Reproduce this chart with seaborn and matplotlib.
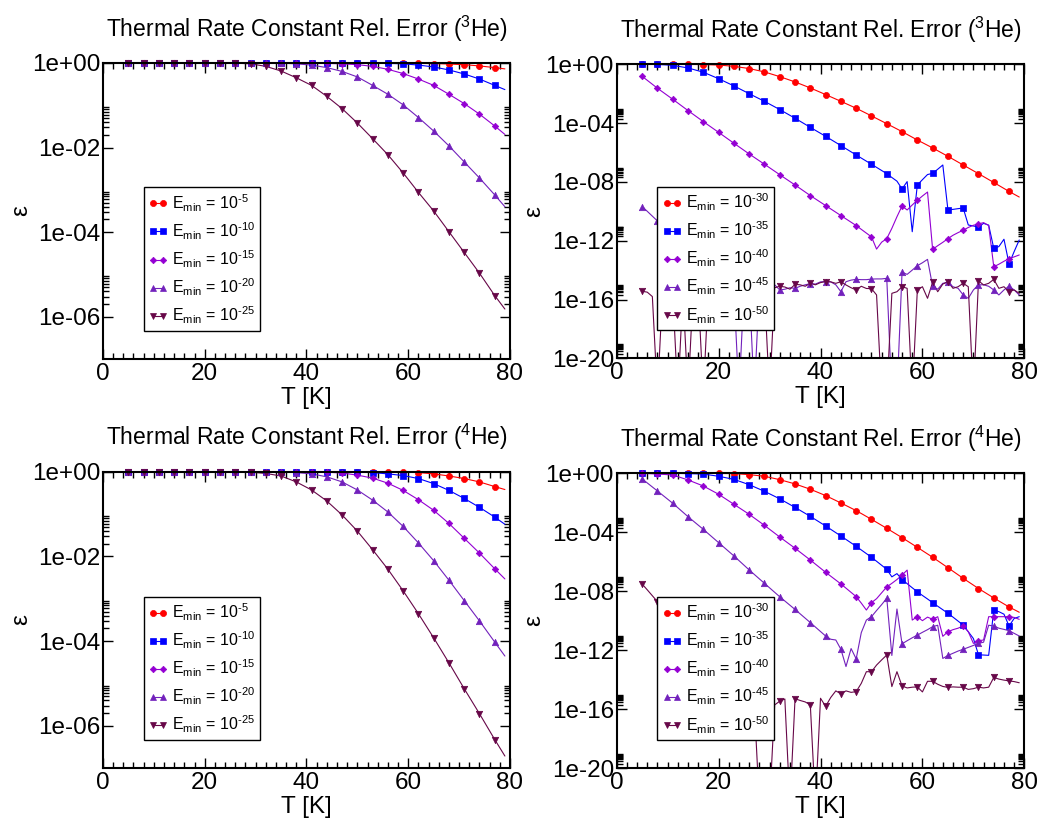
import numpy as np
import matplotlib
matplotlib.use("Agg")
import matplotlib.pyplot as plt
import seaborn as sns
from matplotlib.lines import Line2D
from matplotlib.ticker import FixedLocator, MultipleLocator, FuncFormatter, NullFormatter

sns.set_theme(style="ticks")
plt.rcParams["font.family"] = ["Liberation Sans", "DejaVu Sans"]
plt.rcParams["mathtext.fontset"] = "custom"
plt.rcParams["mathtext.rm"] = "Liberation Sans"
plt.rcParams["mathtext.it"] = "Liberation Sans:italic"
plt.rcParams["mathtext.bf"] = "Liberation Sans:bold"
for key in ("text.color", "axes.labelcolor", "xtick.color", "ytick.color", "axes.edgecolor"):
    plt.rcParams[key] = "black"

# ---------------------------------------------------------------- data
# temperature grids [K]
T_COARSE = [5, 8, 11, 14, 17, 20, 23, 26, 29, 32, 35, 38, 41, 44, 47, 50,
            53, 56, 59, 62, 65, 68, 71, 74, 77, 79]
T_FINE = list(range(5, 80))

# log10 of the relative error, 3He, E_min = 1e-5 ... 1e-25
HE3_E05 = [0, 0, 0, 0, 0, 0, 0, 0, 0, 0, 0, 0, 0, 0, 0, 0, 0,
           -0.003, -0.006, -0.01, -0.015, -0.025, -0.04, -0.07, -0.11, -0.14]
HE3_E10 = [0, 0, 0, 0, 0, 0, 0, 0, 0, 0, 0, 0, 0, 0, 0, -0.003, -0.006,
           -0.01, -0.02, -0.05, -0.094, -0.165, -0.26, -0.38, -0.53, -0.63]
HE3_E15 = [0, 0, 0, 0, 0, 0, 0, 0, 0, 0, 0, -0.001, -0.003, -0.01, -0.02, -0.04,
           -0.08, -0.15, -0.25, -0.38, -0.53, -0.74, -0.96, -1.21, -1.49, -1.69]
HE3_E20 = [0, 0, 0, 0, 0, 0, 0, 0, 0, 0, -0.005, -0.02, -0.05, -0.11, -0.20, -0.33,
           -0.53, -0.74, -0.99, -1.29, -1.61, -1.96, -2.34, -2.72, -3.12, -3.40]
HE3_E25 = [0, 0, 0, 0, 0, 0, 0, -0.005, -0.02, -0.08, -0.19, -0.35, -0.53, -0.79,
           -1.08, -1.42, -1.79, -2.17, -2.60, -3.06, -3.50, -3.99, -4.48, -4.97,
           -5.50, -5.82]

# log10 of the relative error, 4He, E_min = 1e-5 ... 1e-25
HE4_E05 = [0, 0, 0, 0, 0, 0, 0, 0, 0, 0, 0, 0, 0, 0, 0, 0, -0.002,
           -0.005, -0.01, -0.02, -0.05, -0.10, -0.16, -0.24, -0.35, -0.42]
HE4_E10 = [0, 0, 0, 0, 0, 0, 0, 0, 0, 0, 0, 0, 0, 0, -0.003, -0.008, -0.02,
           -0.05, -0.09, -0.16, -0.28, -0.44, -0.63, -0.84, -1.07, -1.24]
HE4_E15 = [0, 0, 0, 0, 0, 0, 0, 0, 0, 0, 0, 0, -0.004, -0.01, -0.03, -0.08,
           -0.15, -0.27, -0.44, -0.66, -0.91, -1.22, -1.57, -1.92, -2.29, -2.53]
HE4_E20 = [0, 0, 0, 0, 0, 0, 0, 0, 0, 0, -0.005, -0.02, -0.05, -0.12, -0.24, -0.43,
           -0.67, -0.95, -1.29, -1.68, -2.10, -2.56, -3.04, -3.52, -4.02, -4.35]
HE4_E25 = [0, 0, 0, 0, 0, 0, 0, 0, -0.01, -0.04, -0.10, -0.24, -0.43, -0.69,
           -1.02, -1.40, -1.84, -2.30, -2.81, -3.35, -3.92, -4.51, -5.12, -5.71,
           -6.32, -6.71]

# 3He, E_min = 1e-30 ... 1e-50
HE3_E30 = [0, 0, 0, -0.01, -0.02, -0.05, -0.14, -0.29, -0.52, -0.84, -1.2, -1.61,
           -2.06, -2.52, -2.99, -3.51, -4.04, -4.58, -5.15, -5.69, -6.26, -6.85,
           -7.44, -8.04, -8.65, -9.03]
T_HE3_E35 = T_COARSE[:17] + list(range(54, 80))
HE3_E35 = [0, -0.01, -0.07, -0.25, -0.54, -0.98, -1.47, -2.0, -2.52, -3.08, -3.67,
           -4.29, -4.9, -5.53, -6.17, -6.8, -7.44,
           -7.7, -7.95, -8.48, -7.98, -11.39, -8.21, -7.85, -7.5, -7.42, -7.14,
           -6.85, -9.89, -9.87, -9.82, -9.78, -10.93, -11.0, -11.07, -10.82,
           -10.94, -12.52, -12.4, -11.9, -13.58, -12.74, -11.95]
T_HE3_E40 = T_COARSE[:16] + list(range(51, 80))
HE3_E40 = [-0.82, -1.63, -2.38, -3.15, -3.9, -4.63, -5.37, -6.10, -6.80, -7.51,
           -8.21, -8.93, -9.61, -10.29, -10.97, -11.74,
           -12.57, -12.1, -11.86, -11.16, -10.37, -9.64, -9.91, -9.57, -9.25,
           -8.96, -8.69, -12.59, -12.34, -12.11, -11.86, -11.63, -11.45, -11.29,
           -11.1, -10.95, -10.86, -10.77, -10.97, -13.77, -13.6, -13.4, -13.22,
           -13.1, -12.97]
HE3_E45 = [-9.68, -10.0, -10.33, -10.66, -11.0, -11.35, -11.7, -12.05, -12.4,
           -12.75, -13.1, -13.45, -13.8, -14.15, -14.5, -14.85, -15.2, -15.0,
           -15.3, -22.5, -15.2, -15.0, -22.5, -15.2, -15.0, -15.05, -15.0, -15.35,
           -15.3, -15.2, -15.24, -15.1, -15.0, -14.92, -14.95, -14.8, -14.78,
           -14.8, -15.0, -15.47, -14.79, -14.68, -14.63, -14.65, -14.65, -14.61,
           -14.6, -14.6, -14.56, -22.5, -22.5, -14.15, -14.29, -14.0, -13.7,
           -13.5, -13.27, -15.1, -15.3, -14.9, -14.83, -15.13, -15.24, -15.69,
           -15.92, -15.35, -15.0, -15.0, -15.1, -15.35, -15.69, -15.35, -15.09,
           -15.35, -15.69]
HE3_E50 = [-15.44, -15.5, -15.8, -22.5, -15.5, -15.4, -15.6, -22.5, -15.5, -22.5,
           -15.4, -15.5, -22.5, -15.3, -15.5, -15.4, -15.3, -15.5, -15.4, -15.3,
           -15.5, -15.4, -15.3, -15.5, -15.4, -22.5, -15.2, -15.1, -15.15, -15.3,
           -14.97, -15.0, -15.1, -14.9, -15.0, -14.85, -14.78, -14.8, -14.9,
           -14.79, -15.01, -15.2, -15.35, -15.1, -15.25, -15.26, -15.69, -22.5,
           -22.5, -15.58, -15.47, -15.13, -15.24, -22.5, -15.35, -15.13, -15.92,
           -14.83, -15.47, -14.95, -14.79, -15.24, -15.13, -14.9, -15.13, -22.5,
           -14.72, -15.01, -14.9, -14.63, -15.24, -15.13, -15.47, -15.35, -15.58]

# 4He, E_min = 1e-30 ... 1e-50
HE4_E30 = [0, 0, 0, 0, -0.005, -0.01, -0.02, -0.09, -0.2, -0.43, -0.72, -1.08,
           -1.51, -2.01, -2.53, -3.12, -3.73, -4.36, -5.02, -5.69, -6.4, -7.12,
           -7.81, -8.45, -9.06, -9.42]
T_HE4_E35 = T_COARSE[:17] + list(range(54, 80))
HE4_E35 = [0, 0, -0.005, -0.02, -0.05, -0.2, -0.41, -0.77, -1.22, -1.73, -2.31,
           -2.92, -3.57, -4.25, -4.95, -5.69, -6.51,
           -7.02, -6.8, -7.2, -7.48, -7.76, -8.03, -8.28, -8.52, -8.77, -9.01,
           -9.25, -9.49, -9.75, -10.02, -10.29, -10.74, -11.2, -12.3, -12.32,
           -12.34, -9.27, -9.38, -9.55, -10.35, -9.84, -9.72]
T_HE4_E40 = T_COARSE[:15] + list(range(48, 80))
HE4_E40 = [0, -0.05, -0.11, -0.45, -0.86, -1.42, -2.1, -2.78, -3.53, -4.32, -5.08,
           -5.88, -6.71, -7.5, -8.36,
           -8.8, -9.27, -8.77, -8.5, -8.1, -7.7, -7.46, -7.2, -6.9, -6.56, -9.95,
           -9.72, -9.99, -9.75, -9.9, -9.72, -11.05, -10.74, -10.6, -10.5,
           -10.35, -10.74, -11.53, -11.35, -11.3, -9.72, -9.72, -9.72, -9.72,
           -9.72, -9.77, -9.9]
T_HE4_E45 = T_COARSE[:13] + list(range(42, 80))
HE4_E45 = [-0.38, -1.2, -2.03, -2.94, -3.8, -4.7, -5.6, -6.55, -7.46, -8.37, -9.23,
           -10.12, -11.03,
           -11.25, -11.3, -11.93, -13.1, -11.88, -12.58, -10.8, -9.95, -9.72,
           -9.3, -8.9, -8.47, -12.35, -9.2, -11.56, -11.35, -11.15, -10.97,
           -10.78, -10.6, -10.4, -10.3, -12.55, -12.35, -12.2, -12.05, -11.93,
           -11.8, -11.67, -11.53, -11.45, -10.3, -10.35, -10.5, -10.58, -10.67,
           -10.85, -11.03]
HE4_E50 = [-7.51, -7.9, -8.3, -8.7, -9.1, -9.5, -9.9, -10.3, -10.7, -11.1, -11.5,
           -11.9, -12.3, -12.7, -13.1, -13.5, -13.9, -14.3, -14.7, -15.0, -15.3,
           -15.5, -15.6, -22.5, -22.5, -22.5, -15.7, -15.45, -15.3, -22.5, -15.28,
           -15.4, -15.5, -15.7, -22.5, -15.25, -15.8, -15.2, -14.75, -14.95,
           -14.75, -14.85, -14.8, -14.24, -13.45, -13.45, -13.0, -12.65, -12.32,
           -14.46, -13.45, -14.42, -14.55, -14.5, -14.48, -14.82, -14.1, -14.1,
           -14.3, -14.45, -14.51, -14.48, -14.5, -14.5, -14.65, -14.6, -14.5,
           -14.55, -14.5, -13.84, -13.95, -14.02, -14.07, -14.12, -14.2]

EXP_LOW = ["-5", "-10", "-15", "-20", "-25"]
EXP_HIGH = ["-30", "-35", "-40", "-45", "-50"]

# ---------------------------------------------------------------- style
COLORS = ["#ff0000", "#0000ff", "#9400d3", "#7221bc", "#670748"]
MARKERS = ["o", "s", "D", "^", "v"]
MSIZES = [4.4, 4.0, 3.3, 4.6, 4.6]


def draw_panel(ax, series, exps, ymin_exp, major_step, isotope):
    ax.set_yscale("log")
    handles = []
    for (t, logv), col, mk, ms, ex in zip(series, COLORS, MARKERS, MSIZES, exps):
        t = np.asarray(t)
        logv = np.asarray(logv, dtype=float)
        eps = 10.0 ** logv
        # connecting line, clipped to the frame
        sns.lineplot(x=t, y=eps, ax=ax, color=col, lw=0.8, estimator=None,
                     sort=False, errorbar=None, legend=False, zorder=2)
        # symbols every 3 K; drawn unclipped so points on the frame stay whole
        sel = ((t - 5) % 3 == 0) & (t <= 77) & (logv >= ymin_exp)
        sns.scatterplot(x=t[sel], y=eps[sel], ax=ax, color=col, marker=mk,
                        s=ms ** 2, edgecolor=col, linewidth=0.5,
                        clip_on=False, legend=False, zorder=3)
        handles.append(Line2D([], [], color=col, lw=0.8, marker=mk,
                              markersize=ms, markeredgecolor=col,
                              markeredgewidth=0.5,
                              label=r"E$_{\mathrm{min}}$ = 10$^{\text{%s}}$" % ex))

    ax.set_xlim(0, 80)
    ax.set_ylim(10.0 ** ymin_exp, 1.0)
    majors = [10.0 ** e for e in range(0, ymin_exp - 1, -major_step)]
    minors = [m * k for m in majors for k in range(2, 10)]
    ax.yaxis.set_major_locator(FixedLocator(majors))
    ax.yaxis.set_minor_locator(FixedLocator(minors))
    ax.yaxis.set_major_formatter(FuncFormatter(lambda v, p: f"{v:.0e}"))
    ax.yaxis.set_minor_formatter(NullFormatter())
    ax.xaxis.set_major_locator(MultipleLocator(20))
    ax.xaxis.set_minor_locator(MultipleLocator(2))

    ax.tick_params(which="both", direction="in", top=True, right=True,
                   width=1.0, labelsize=17.5)
    ax.tick_params(axis="x", which="major", length=7, pad=3)
    ax.tick_params(axis="y", which="major", length=7, pad=2)
    ax.tick_params(which="minor", length=4)
    for sp in ax.spines.values():
        sp.set_linewidth(1.5)
        sp.set_color("black")
        sp.set_zorder(4)

    ax.set_xlabel("T [K]", fontsize=17.5, labelpad=1)
    ax.set_ylabel("ε", fontsize=17.5, labelpad=0)
    ax.set_title(r"Thermal Rate Constant Rel. Error ($^{%s}$He)" % isotope,
                 fontsize=16.5, pad=19)

    leg = ax.legend(handles=handles, loc="lower left",
                    bbox_to_anchor=(0.10, 0.095), numpoints=2,
                    handlelength=1.2, handletextpad=0.3, borderpad=0.3,
                    labelspacing=0.42, fontsize=11.5, frameon=True,
                    fancybox=False, framealpha=1.0, borderaxespad=0.0)
    leg.get_frame().set_edgecolor("black")
    leg.get_frame().set_linewidth(1.0)
    leg.set_zorder(6)


fig = plt.figure(figsize=(10.41, 8.22), dpi=100)
ax_tl = fig.add_axes([0.0989, 0.5633, 0.3910, 0.3601])
ax_tr = fig.add_axes([0.5924, 0.5641, 0.3916, 0.3577])
ax_bl = fig.add_axes([0.0989, 0.0653, 0.3910, 0.3608])
ax_br = fig.add_axes([0.5924, 0.0653, 0.3916, 0.3589])

draw_panel(ax_tl, [(T_COARSE, HE3_E05), (T_COARSE, HE3_E10), (T_COARSE, HE3_E15),
                   (T_COARSE, HE3_E20), (T_COARSE, HE3_E25)],
           EXP_LOW, -7, 2, "3")
draw_panel(ax_tr, [(T_COARSE, HE3_E30), (T_HE3_E35, HE3_E35), (T_HE3_E40, HE3_E40),
                   (T_FINE, HE3_E45), (T_FINE, HE3_E50)],
           EXP_HIGH, -20, 4, "3")
draw_panel(ax_bl, [(T_COARSE, HE4_E05), (T_COARSE, HE4_E10), (T_COARSE, HE4_E15),
                   (T_COARSE, HE4_E20), (T_COARSE, HE4_E25)],
           EXP_LOW, -7, 2, "4")
draw_panel(ax_br, [(T_COARSE, HE4_E30), (T_HE4_E35, HE4_E35), (T_HE4_E40, HE4_E40),
                   (T_HE4_E45, HE4_E45), (T_FINE, HE4_E50)],
           EXP_HIGH, -20, 4, "4")

fig.savefig("out.png", dpi=100, facecolor="white")
